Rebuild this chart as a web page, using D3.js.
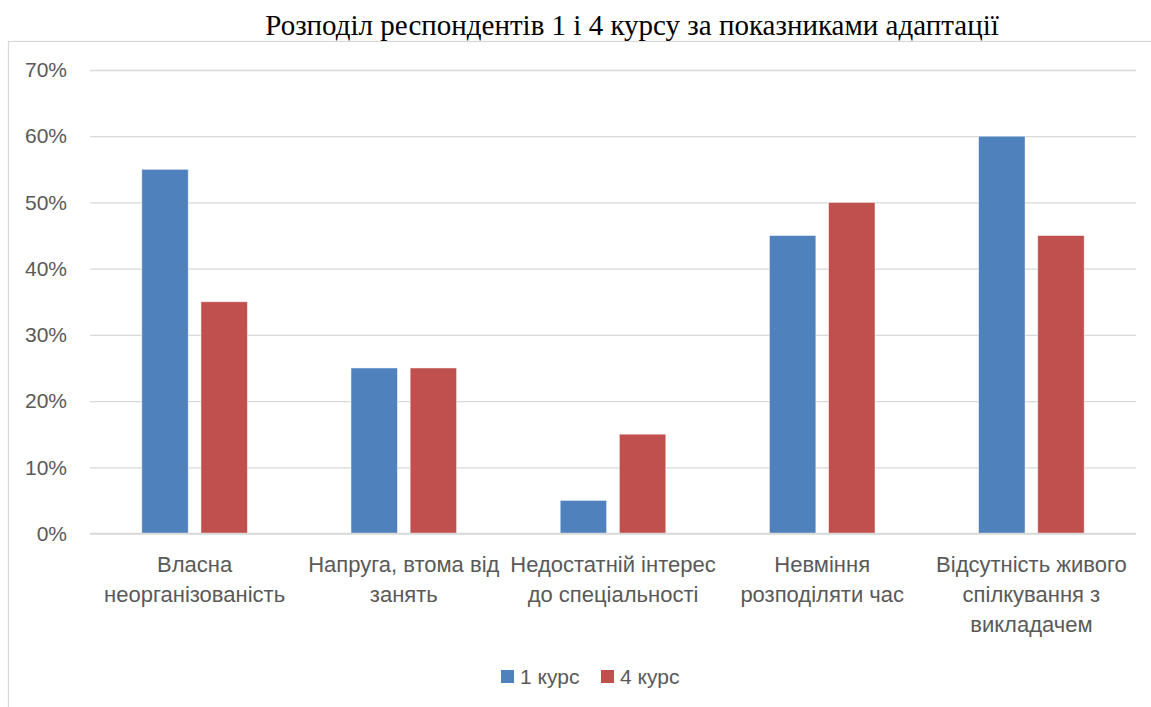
<!DOCTYPE html>
<html>
<head>
<meta charset="utf-8">
<script src="https://cdn.jsdelivr.net/npm/d3@7"></script>
<style>
  body { margin: 0; background: #fff; }
  svg { display: block; }
</style>
</head>
<body>
<svg id="chart" width="1151" height="707"></svg>
<script>
// chart data
var title = "Розподіл респондентів 1 і 4 курсу за показниками адаптації";
var categories = [
    ["Власна", "неорганізованість"],
    ["Напруга, втома від", "занять"],
    ["Недостатній інтерес", "до спеціальності"],
    ["Невміння", "розподіляти час"],
    ["Відсутність живого", "спілкування з", "викладачем"]
];
var seriesNames = ["1 курс", "4 курс"];
var course1 = [0.55, 0.25, 0.05, 0.45, 0.60];
var course4 = [0.35, 0.25, 0.15, 0.50, 0.45];
var yTicks = [0, 0.1, 0.2, 0.3, 0.4, 0.5, 0.6, 0.7];
var colors = ["#4F81BD", "#C0504D"];

var sans = "'Liberation Sans', Arial, sans-serif";
var svg = d3.select("#chart");

// frame of the chart area
svg.append("rect")
    .attr("x", 8.5).attr("y", 41.5)
    .attr("width", 1160).attr("height", 700)
    .attr("fill", "none")
    .attr("stroke", "#D9D9D9")
    .attr("stroke-width", 1.3);

svg.append("text")
    .attr("x", 632).attr("y", 35)
    .attr("text-anchor", "middle")
    .style("font-family", "'Liberation Serif', 'Times New Roman', serif")
    .style("font-size", "29px")
    .attr("fill", "#000")
    .text(title);

var margin = { top: 70, left: 90, right: 1136, bottom: 533.5 };

var x = d3.scaleBand()
    .domain(d3.range(categories.length))
    .range([margin.left, margin.right]);

var y = d3.scaleLinear()
    .domain([0, 0.7])
    .range([margin.bottom, margin.top]);

// gridlines + tick labels
var yAxis = d3.axisLeft(y)
    .tickValues(yTicks)
    .tickFormat(d3.format(".0%"))
    .tickSize(-(margin.right - margin.left))
    .tickPadding(23);

var gy = svg.append("g")
    .attr("transform", "translate(" + margin.left + ",0)")
    .call(yAxis);
gy.select(".domain").remove();
gy.selectAll(".tick line").attr("stroke", "#D9D9D9").attr("stroke-width", 1.3);
gy.selectAll(".tick text")
    .attr("fill", "#595959")
    .style("font-family", sans)
    .style("font-size", "21px");

// bars
var barW = x.bandwidth() * 0.222;
var gap = 12.7;
var series = [course1, course4];

series.forEach(function (vals, s) {
    svg.append("g")
        .selectAll("rect")
        .data(vals)
        .join("rect")
        .attr("x", function (d, i) {
            var c = x(i) + x.bandwidth() / 2;
            return s === 0 ? c - gap / 2 - barW : c + gap / 2;
        })
        .attr("y", function (d) { return y(d); })
        .attr("width", barW)
        .attr("height", function (d) { return y(0) - y(d); })
        .attr("fill", colors[s])
        .attr("stroke", "#fff")
        .attr("stroke-opacity", 0.6)
        .attr("stroke-width", 0.8);
});

// zero line on top of the bars
svg.append("line")
    .attr("x1", margin.left).attr("x2", margin.right)
    .attr("y1", y(0)).attr("y2", y(0))
    .attr("stroke", "#D9D9D9").attr("stroke-width", 1.3);

// category labels
var lab = svg.append("g")
    .selectAll("text")
    .data(categories)
    .join("text")
    .attr("text-anchor", "middle")
    .attr("fill", "#595959")
    .style("font-family", sans)
    .style("font-size", "22px");

lab.selectAll("tspan")
    .data(function (d, i) { return d.map(function (t) { return { t: t, i: i }; }); })
    .join("tspan")
    .attr("x", function (d) { return x(d.i) + x.bandwidth() / 2; })
    .attr("y", function (d, j) { return 572 + j * 30; })
    .text(function (d) { return d.t; });

// legend
var legend = svg.append("g").attr("transform", "translate(501,670)");
var legX = [0, 100];
seriesNames.forEach(function (name, s) {
    legend.append("rect")
        .attr("x", legX[s]).attr("y", 0)
        .attr("width", 13).attr("height", 13)
        .attr("fill", colors[s]);
    legend.append("text")
        .attr("x", legX[s] + 19).attr("y", 14)
        .attr("fill", "#595959")
        .style("font-family", sans)
        .style("font-size", "21px")
        .text(name);
});
</script>
</body>
</html>
